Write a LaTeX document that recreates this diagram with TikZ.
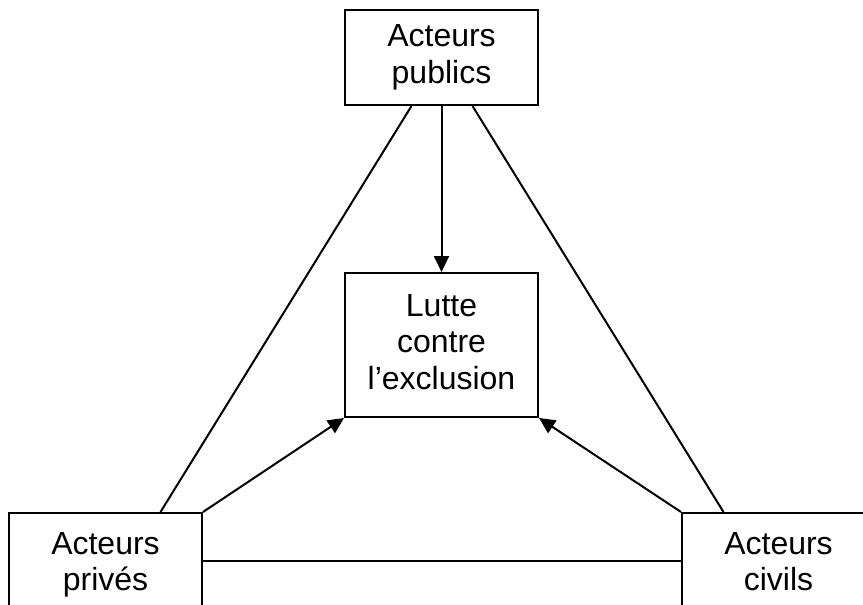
\documentclass[tikz,border=0pt]{standalone}
\usepackage{fontspec}
\setmainfont{Liberation Sans}
\usetikzlibrary{arrows.meta}

\begin{document}
\begin{tikzpicture}[>={Triangle[length=8pt, width=7.5pt]}, x=.5pt, y=-.5pt, line width=1pt,
    acteur/.style={draw, align=center, minimum width=96.5pt, inner sep=0pt, font=\fontsize{16}{18.3}\selectfont}]
\useasboundingbox (0,0) rectangle (863,605);

\node[acteur, minimum height=47.5pt] (pub) at (441.5,57.5) {Acteurs\\publics};
\node[acteur, minimum height=72pt] (lutte) at (441.5,345) {Lutte\\contre\\l’exclusion\vphantom{p}};
\node[acteur, minimum height=52pt] (prive) at (105.5,565) {Acteurs\\privés};
\node[acteur, minimum height=52pt] (civil) at (778.5,565) {Acteurs\\civils\vphantom{p}};

\draw[->](pub.south)--(lutte.north);
\draw[->](prive.north east)--(lutte.south west);
\draw[->](civil.north west)--(lutte.south east);
\draw([xshift=-15pt]pub.south)--([xshift=27.5pt]prive.north);
\draw([xshift=15.5pt]pub.south)--([xshift=-27.5pt]civil.north);
\draw([yshift=2pt]prive.east)--([yshift=2pt]civil.west);

\end{tikzpicture}
\end{document}
